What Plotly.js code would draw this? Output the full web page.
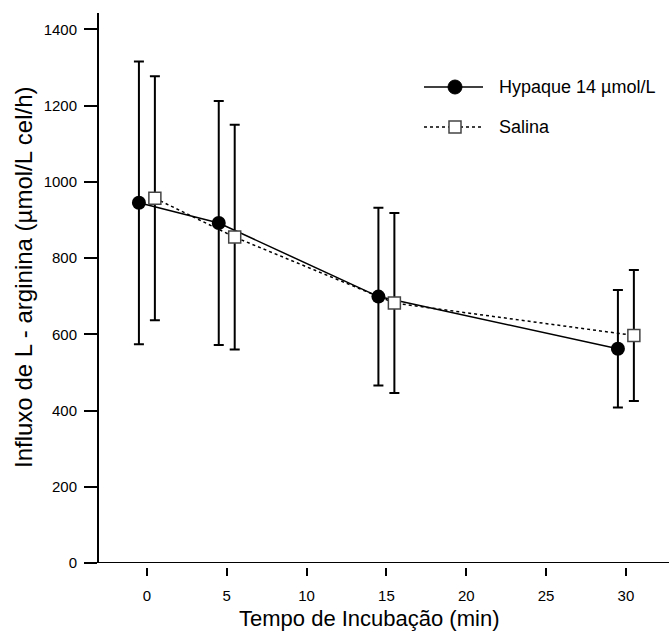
<!DOCTYPE html>
<html>
<head>
<meta charset="utf-8">
<script src="https://cdn.plot.ly/plotly-3.0.1.min.js"></script>
<style>
  html, body { margin: 0; padding: 0; background: #fff; }
  #chart { width: 669px; height: 632px; }
</style>
</head>
<body>
<div id="chart"></div>
<script>
// ---- data ----
const times = [0, 5, 15, 30];
const hypaqueMean = [945, 892, 699, 562];
const hypaqueErr = [371, 320, 233, 154];
const salinaMean = [957, 855, 682, 597];
const salinaErr = [320, 295, 236, 172];
const xTickVals = [0, 5, 10, 15, 20, 25, 30];
const yTickVals = [0, 200, 400, 600, 800, 1000, 1200, 1400];
const seriesNames = ['Hypaque 14 µmol/L', 'Salina'];
const xTitle = 'Tempo de Incubação (min)';
const yTitle = 'Influxo de L - arginina (µmol/L cel/h)';

// horizontal dodge so the two series do not overlap
const dodge = 0.5;

const font = 'Arial, "Liberation Sans", Helvetica, sans-serif';

// plot area in pixels (for placing decorations)
const W = 669, H = 632;
const M = { l: 99, r: 0, t: 13, b: 65 };
const plotW = W - M.l - M.r, plotH = H - M.t - M.b;
const px = x => (x - M.l) / plotW;          // pixel x -> paper x
const py = y => (H - M.b - y) / plotH;      // pixel y -> paper y

const traces = [
  {
    type: 'scatter', mode: 'lines+markers',
    name: seriesNames[0], showlegend: false,
    x: times.map(t => t - dodge), y: hypaqueMean,
    line: { color: '#000', width: 1.5 },
    marker: { symbol: 'circle', size: 14, color: '#000' },
    error_y: { type: 'data', array: hypaqueErr, visible: true, color: '#000', thickness: 2, width: 5 }
  },
  {
    type: 'scatter', mode: 'lines+markers',
    name: seriesNames[1], showlegend: false,
    x: times.map(t => t + dodge), y: salinaMean,
    line: { color: '#000', width: 1.5, dash: 'dot' },
    marker: { symbol: 'square', size: 12, color: '#fff', line: { color: '#444', width: 1.5 } },
    error_y: { type: 'data', array: salinaErr, visible: true, color: '#000', thickness: 2, width: 5 }
  }
];

// hand-built legend (line sample + symbol + label)
const leg = { x0: 424, x1: 483, xm: 455, xt: 497, rows: [87, 127] };
const legendShapes = [
  { type: 'line', xref: 'paper', yref: 'paper', x0: px(leg.x0), x1: px(leg.x1), y0: py(leg.rows[0]), y1: py(leg.rows[0]),
    line: { color: '#000', width: 1.5 } },
  { type: 'circle', xref: 'paper', yref: 'paper', xsizemode: 'pixel', ysizemode: 'pixel',
    xanchor: px(leg.xm), yanchor: py(leg.rows[0]), x0: -7, x1: 7, y0: -7, y1: 7,
    fillcolor: '#000', line: { color: '#000', width: 1 } },
  { type: 'line', xref: 'paper', yref: 'paper', x0: px(leg.x0), x1: px(leg.x1), y0: py(leg.rows[1]), y1: py(leg.rows[1]),
    line: { color: '#000', width: 1.5, dash: 'dot' } },
  { type: 'rect', xref: 'paper', yref: 'paper', xsizemode: 'pixel', ysizemode: 'pixel',
    xanchor: px(leg.xm), yanchor: py(leg.rows[1]), x0: -6, x1: 6, y0: -6, y1: 6,
    fillcolor: '#fff', line: { color: '#444', width: 1.5 } }
];

const layout = {
  width: W, height: H,
  margin: { l: M.l, r: M.r, t: M.t, b: M.b, pad: 0 },
  paper_bgcolor: '#fff', plot_bgcolor: '#fff',
  font: { family: font, color: '#000', size: 15 },
  showlegend: false,
  xaxis: {
    range: [-3, 32.7], anchor: 'free', position: 0,
    showline: false, showgrid: false, zeroline: false,
    tickmode: 'array', tickvals: xTickVals,
    ticks: 'outside', ticklen: 8, tickwidth: 2, tickcolor: '#000',
    ticklabelstandoff: 7,
    tickfont: { family: font, size: 15, color: '#000' }
  },
  yaxis: {
    domain: [4 / plotH, 1], range: [0, 1443],
    showline: true, linewidth: 2, linecolor: '#000',
    showgrid: false, zeroline: false,
    tickmode: 'array', tickvals: yTickVals,
    ticks: 'outside', ticklen: 13, tickwidth: 2, tickcolor: '#000',
    ticklabelstandoff: 4,
    tickfont: { family: font, size: 15, color: '#000' }
  },
  shapes: [
    { type: 'line', xref: 'paper', x0: 0, x1: 1, yref: 'y', y0: 0, y1: 0, line: { color: '#000', width: 2 } },
    ...legendShapes
  ],
  annotations: [
    { text: xTitle, xref: 'paper', yref: 'paper', x: px(369), y: py(618), xanchor: 'center', yanchor: 'middle',
      showarrow: false, font: { family: font, size: 22, color: '#000' } },
    { text: yTitle, xref: 'paper', yref: 'paper', x: px(23), y: py(277), xanchor: 'center', yanchor: 'middle',
      textangle: -90, showarrow: false, font: { family: font, size: 24, color: '#000' } },
    { text: seriesNames[0], xref: 'paper', yref: 'paper', x: px(leg.xt), y: py(leg.rows[0]), xanchor: 'left', yanchor: 'middle',
      showarrow: false, font: { family: font, size: 18, color: '#000' } },
    { text: seriesNames[1], xref: 'paper', yref: 'paper', x: px(leg.xt), y: py(leg.rows[1]), xanchor: 'left', yanchor: 'middle',
      showarrow: false, font: { family: font, size: 18, color: '#000' } }
  ]
};

Plotly.newPlot('chart', traces, layout, { displayModeBar: false, staticPlot: true });
</script>
</body>
</html>
